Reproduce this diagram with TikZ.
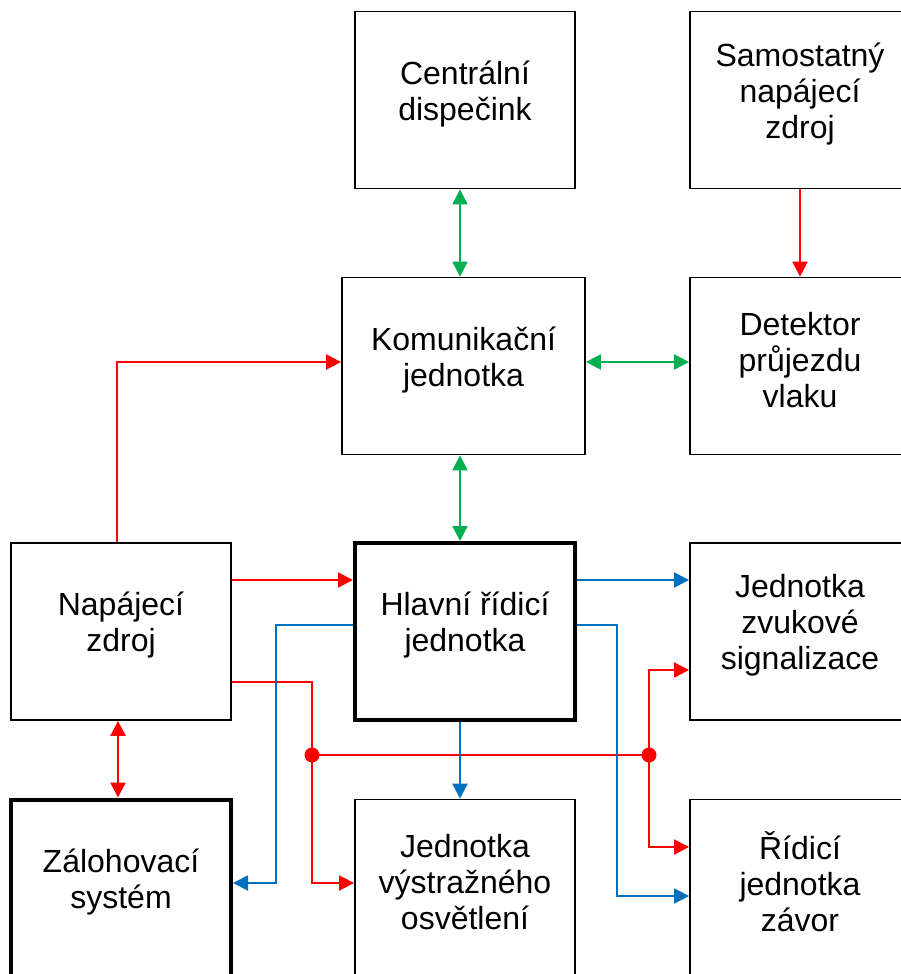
\documentclass[tikz,border=0pt]{standalone}
\usepackage{fontspec}
\setmainfont{Liberation Sans}
\usetikzlibrary{arrows.meta}
\definecolor{cred}{RGB}{255,0,0}
\definecolor{cgreen}{RGB}{0,176,80}
\definecolor{cblue}{RGB}{0,112,192}
\tikzset{
  blok/.style={draw, line width=1.8pt, minimum width=220pt, minimum height=177pt, inner sep=0pt},
  hlavni/.style={blok, line width=4pt},
  popis/.style={align=center, inner sep=0pt, font=\fontsize{32}{36}\selectfont},
  tip/.style={-{Triangle[length=15pt,width=15pt]}},
  oboutip/.style={{Triangle[length=15pt,width=15pt]}-{Triangle[length=15pt,width=15pt]}},
  napajeni/.style={cred, line width=2.2pt},
  data/.style={cgreen, line width=2.2pt},
  rizeni/.style={cblue, line width=1.9pt}
}

\begin{document}
\begin{tikzpicture}[x=1pt, y=-1pt]
  \useasboundingbox (0,0) rectangle (901,974);

  % bloky
  \node[blok] (cd) at (465,100) {};
  \node[popis] (cdt) at ([yshift=6pt]cd.center) {Centrální\\dispečink};
  \node[blok] (sz) at (800,100) {};
  \node[popis] (szt) at ([yshift=6pt]sz.center) {Samostatný\\napájecí\\zdroj};
  \node[blok, minimum width=243pt] (kj) at (463.5,366) {};
  \node[popis] (kjt) at ([yshift=6pt]kj.center) {Komunikační\\jednotka};
  \node[blok] (dv) at (800,366) {};
  \node[popis] (dvt) at ([yshift=6pt]dv.center) {Detektor\\průjezdu\\vlaku};
  \node[blok] (nz) at (121,631.5) {};
  \node[popis] (nzt) at ([yshift=6pt]nz.center) {Napájecí\\zdroj};
  \node[hlavni] (hj) at (465,631.5) {};
  \node[popis] (hjt) at ([yshift=6pt]hj.center) {Hlavní řídicí\\jednotka};
  \node[blok] (zs) at (800,631.5) {};
  \node[popis] (zst) at ([yshift=6pt]zs.center) {Jednotka\\zvukové\\signalizace};
  \node[hlavni] (zal) at (121,888) {};
  \node[popis] (zalt) at ([yshift=6pt]zal.center) {Zálohovací\\systém};
  \node[blok] (vo) at (465,888) {};
  \node[popis] (vot) at ([yshift=6pt]vo.center) {Jednotka\\výstražného\\osvětlení};
  \node[blok] (zv) at (800,888) {};
  \node[popis] (zvt) at ([yshift=6pt]zv.center) {Řídicí\\jednotka\\závor};

  \coordinate (j1) at (312,755);
  \coordinate (j2) at (649,755);

  % napajeni
  \draw[napajeni,tip] ([xshift=-4pt]nz.north) |- ([yshift=4pt]kj.west);
  \draw[napajeni,tip] (sz.south) -- (dv.north);
  \draw[napajeni,oboutip] ([xshift=-3pt]nz.south) -- ([xshift=-3pt]zal.north);
  \draw[napajeni,tip] ([yshift=51.5pt]nz.east) -- ([yshift=51.5pt]nz.east -| hj.west);
  \draw[napajeni,tip,line width=1.8pt] ([yshift=-50.5pt]nz.east) -| (j1) |- ([yshift=5pt]vo.west);
  \draw[napajeni,line width=1.8pt] (j1) -- (j2);
  \draw[napajeni,tip,line width=1.8pt] (j2) |- ([yshift=-38.5pt]zs.west);
  \draw[napajeni,tip,line width=1.8pt] (j2) |- ([yshift=41pt]zv.west);
  \fill[cred] (j1) circle (7.5pt) (j2) circle (7.5pt);

  % komunikace
  \draw[data,oboutip] ([xshift=-5pt]cd.south) -- ([xshift=-5pt]cd.south |- kj.north);
  \draw[data,oboutip] ([yshift=4pt]kj.east) -- ([yshift=4pt]kj.east -| dv.west);
  \draw[data,oboutip] ([xshift=-5pt]hj.north |- kj.south) -- ([xshift=-5pt]hj.north);

  % rizeni
  \draw[rizeni,tip] ([yshift=51.5pt]hj.east) -- ([yshift=51.5pt]hj.east -| zs.west);
  \draw[rizeni,tip] ([yshift=6.5pt]hj.west) -- ++(-77,0) |- ([yshift=5pt]zal.east);
  \draw[rizeni,tip] ([yshift=6.5pt]hj.east) -- ++(40,0) |- ([yshift=-8pt]zv.west);
  \draw[rizeni,tip] ([xshift=-5pt]hj.south) -- ([xshift=-5pt]vo.north);
\end{tikzpicture}
\end{document}
